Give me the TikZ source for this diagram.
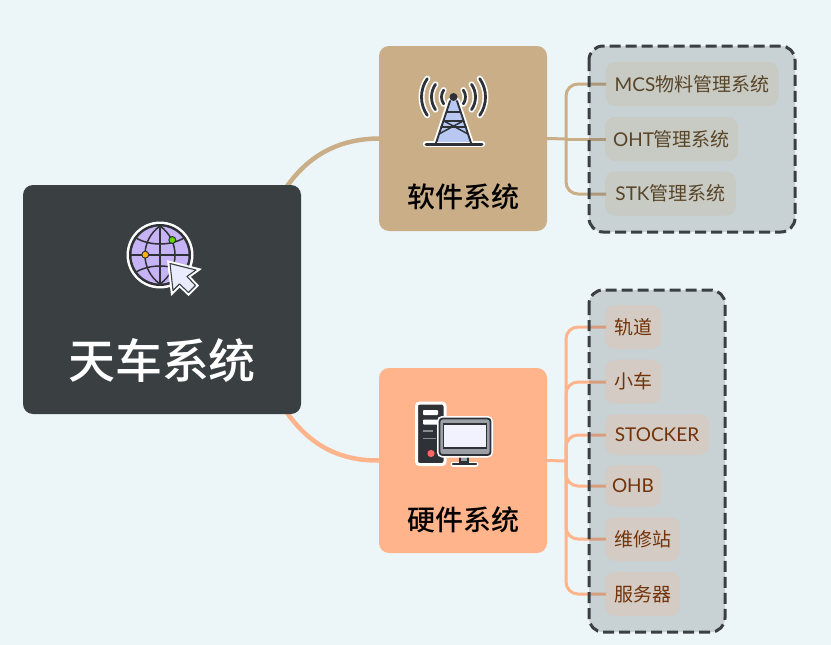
\documentclass[tikz,border=0pt]{standalone}
\usepackage{fontspec}
\usetikzlibrary{backgrounds}
\setmainfont{Lato}
\newfontfamily\cjk{Noto Sans CJK SC}
\newfontfamily\cjkb{Noto Sans CJK SC Medium}
\newcommand{\zh}[1]{{\cjk #1}}
\definecolor{bgc}{HTML}{ECF6F8}
\definecolor{darkc}{HTML}{3A3F42}
\definecolor{tanc}{HTML}{C9AE88}
\definecolor{orgc}{HTML}{FFB48C}
\definecolor{inkc}{HTML}{2E3236}
\definecolor{tantext}{HTML}{584528}
\definecolor{orgtext}{HTML}{733208}
\definecolor{globec}{HTML}{C6B3F5}
\definecolor{towerc}{HTML}{B9C8F2}
\definecolor{greyc}{HTML}{9AA0A6}
\tikzset{
 x=1pt,y=-1pt,
 mainbox/.style={rounded corners=10pt,inner sep=0pt,minimum width=168pt,minimum height=185pt},
 groupbox/.style={draw=darkc,line width=3pt,dash pattern=on 11pt off 5pt,rounded corners=14pt,fill=darkc,fill opacity=.2,draw opacity=1},
 item/.style={rounded corners=10pt,inner sep=0pt,minimum height=44pt,font=\fontsize{19}{22}\selectfont,fill opacity=.2,text opacity=1},
 swline/.style={draw=tanc,line width=3pt,rounded corners=12pt},
 hwline/.style={draw=orgc,line width=3pt,rounded corners=12pt},
 ink/.style={draw=inkc,line width=1.9pt,line join=round,line cap=round},
 thin ink/.style={draw=inkc,line width=1.5pt,line join=round,line cap=round},
 halo/.style={draw=white,line width=6pt,line join=round,line cap=round},
}
\begin{document}
\begin{tikzpicture}
% main nodes
\node[mainbox,fill=darkc,minimum width=278pt,minimum height=229pt] (root) at (162,299.5) {};
\node[mainbox,fill=tanc] (sw) at (463,138.5) {};
\node[mainbox,fill=orgc] (hw) at (463,460.5) {};

\coordinate (tsw) at (566,139);
\coordinate (thw) at (566,461);
\path (root.north east) ++(-16,4) coordinate (ra);
\path (root.south east) ++(-16,-4) coordinate (rb);

\begin{pgfonlayer}{background}
\fill[bgc] (0,0) rectangle (831,645);
\path[use as bounding box] (0,0) rectangle (831,645);
\draw[tanc,line width=4.5pt] (ra) .. controls (303,163) and (330,139) .. (sw.west);
\draw[orgc,line width=4.5pt] (rb) .. controls (303,436) and (330,461) .. (hw.west);
\end{pgfonlayer}

% connectors software
\draw[swline] (sw.east) -- (tsw);
\draw[swline] (tsw) |- (606,84);
\draw[swline] (tsw) -- (606,139);
\draw[swline] (tsw) |- (606,194);
% connectors hardware
\draw[hwline] (hw.east) -- (thw);
\draw[hwline] (thw) |- (606,327);
\draw[hwline] (thw) |- (606,382);
\draw[hwline] (thw) |- (606,435);
\draw[hwline] (thw) |- (606,486);
\draw[hwline] (thw) |- (606,539);
\draw[hwline] (thw) |- (606,594);

% group boxes
\path[groupbox] (589,46) rectangle (795,232);
\path[groupbox] (589,290) rectangle (725,632);

% items
\node[item,fill=tanc,text=tantext,minimum width=173pt] (mcs) at (692,84) {MCS\zh{物料管理系统}};
\node[item,fill=tanc,text=tantext,minimum width=133pt] (oht) at (671.5,139) {OHT\zh{管理系统}};
\node[item,fill=tanc,text=tantext,minimum width=131pt] (stk) at (670.5,193.5) {STK\zh{管理系统}};
\node[item,fill=orgc,text=orgtext,minimum width=56pt] (gd) at (633,327) {\zh{轨道}};
\node[item,fill=orgc,text=orgtext,minimum width=56pt] (xc) at (633,381.5) {\zh{小车}};
\node[item,fill=orgc,text=orgtext,minimum width=104pt,minimum height=41pt] (st) at (657,434.5) {STOCKER};
\node[item,fill=orgc,text=orgtext,minimum width=56pt,minimum height=42pt] (ohb) at (633,486) {OHB};
\node[item,fill=orgc,text=orgtext,minimum width=75pt] (wx) at (642.5,539) {\zh{维修站}};
\node[item,fill=orgc,text=orgtext,minimum width=75pt] (fw) at (642.5,594) {\zh{服务器}};

% titles
\node[inner sep=0pt,text=white,font=\fontsize{47}{52}\selectfont] (t0) at (162,360) {\cjkb 天车系统};
\node[inner sep=0pt,text=black,font=\fontsize{28}{31}\selectfont] (t1) at (463,197) {\cjkb 软件系统};
\node[inner sep=0pt,text=black,font=\fontsize{28}{31}\selectfont] (t2) at (463,520) {\cjkb 硬件系统};

% globe icon
\fill[white] (160,255) circle (33.5);
\fill[inkc] (160,255) circle (31);
\fill[globec] (160,255) circle (28.5);
\begin{scope}
\clip (160,255) circle (29);
\draw[thin ink] (131,255) -- (189,255);
\draw[thin ink] (160,226) -- (160,284);
\draw[thin ink] (160,226) .. controls (140,240) and (140,270) .. (160,284);
\draw[thin ink] (160,226) .. controls (180,240) and (180,270) .. (160,284);
\draw[thin ink] (136,238) .. controls (150,246) and (170,246) .. (184,238);
\draw[thin ink] (136,272) .. controls (150,264) and (170,264) .. (184,272);
\end{scope}
\fill[inkc] (145.3,254.7) circle (4);
\fill[orange!60!yellow] (145.3,254.7) circle (2.8);
\fill[inkc] (172.3,240) circle (4);
\fill[green!55!yellow!85!black] (172.3,240) circle (2.8);
% cursor
\draw[darkc,fill=white!92!blue,line width=1.1pt,line join=round,preaction={draw=white,line width=5pt}]
 (170,263.5) -- (196,270) -- (187,276.5) -- (195.5,285.5) -- (188.5,292.5) -- (179.5,284) -- (173,290.5) -- cycle;

% tower icon
\foreach \r in {12,22,32}{
 \draw[halo] (453.5,97)++(145:\r) arc[start angle=145,end angle=215,radius=\r];
 \draw[halo] (453.5,97)++(35:\r) arc[start angle=35,end angle=-35,radius=\r];
}
\foreach \r in {12,22,32}{
 \draw[ink,line width=2.8pt] (453.5,97)++(145:\r) arc[start angle=145,end angle=215,radius=\r];
 \draw[ink,line width=2.8pt] (453.5,97)++(35:\r) arc[start angle=35,end angle=-35,radius=\r];
}
\draw[halo,line width=6.5pt] (426,144) -- (482,144);
\draw[halo,line width=5pt] (450,100) -- (457,100) -- (471,142) -- (436,142) -- cycle;
\fill[towerc] (450,100) -- (457,100) -- (471,142) -- (436,142) -- cycle;
\draw[ink] (450,101) -- (436,143);
\draw[ink] (457,101) -- (471,143);
\draw[thin ink] (447,112) -- (460,112);
\draw[thin ink] (444,121) -- (463,121);
\draw[thin ink] (444,121) -- (468,134) (463,121) -- (439,134);
\draw[thin ink] (441,127) -- (466,127);
\draw[ink,line width=3pt] (426,144) -- (482,144);
\fill[inkc] (453.5,97) circle (4);

% computer icon
\draw[white,fill=inkc,line width=3pt,rounded corners=3pt] (416.5,403) rectangle (445,464.5);
\fill[white,rounded corners=.8pt] (423,410) rectangle (438,415);
\fill[white,rounded corners=.8pt] (423,419.5) rectangle (438,424.5);
\draw[darkc!60!white,line width=1.2pt] (423,431) -- (433,431) (423,438.5) -- (436,438.5);
\fill[white!40!red] (431,453.5) circle (3.6);
\draw[white,line width=5pt,line cap=round] (453,464) -- (476,464);
\draw[inkc,fill=greyc,line width=1.2pt] (460,452) rectangle (468,462);
\draw[inkc,line width=2.4pt,line cap=round] (453,464) -- (476,464);
\draw[white,line width=5pt,rounded corners=3pt] (439.5,418.5) rectangle (490.5,455);
\draw[inkc,fill=greyc,line width=1.8pt,rounded corners=3pt] (439.5,418.5) rectangle (490.5,455);
\draw[inkc,fill=white!95!blue,line width=1.1pt] (443.5,424) rectangle (486.5,448);
\end{tikzpicture}
\end{document}
